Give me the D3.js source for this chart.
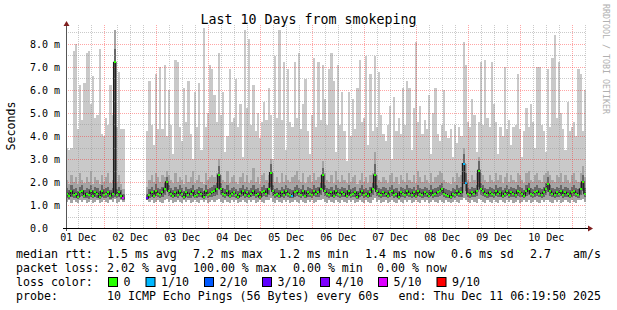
<!DOCTYPE html>
<html>
<head>
<meta charset="utf-8">
<script src="https://cdn.jsdelivr.net/npm/d3@7"></script>
<style>
  body { margin: 0; background: #fff; }
  text { font-family: "DejaVu Sans Mono", monospace; }
</style>
</head>
<body>
<div class="viz"></div>
<script>
// hourly buckets, Dec 1 06:19:50 .. Dec 11 06:19:50 (UTC)
var startTime = Date.UTC( 2025, 11, 1, 6, 19, 50 ),
    endTime = Date.UTC( 2025, 11, 11, 6, 19, 50 ),
    bucketMs = 3600 * 1000;

// round trip times in ms, one value per bucket (null = no data)
var pingMax = [
    3.5,3.4,3.5,7.7,8.0,4.3,6.2,4.7,6.3,7.6,7.7,5.4,6.6,4.8,4.9,7.8,4.1,4.0,4.8,4.5,6.2,4.9,8.6,4.4,6.8,4.3,4.3,
    null,null,null,null,null,null,null,null,null,null,
    4.2,6.4,4.5,3.6,6.7,4.3,7.0,4.3,7.1,4.0,
    6.0,4.5,3.2,7.3,7.2,4.4,3.8,6.1,4.6,6.4,
    4.1,3.0,5.9,4.4,6.3,3.4,8.7,4.4,5.0,7.1,
    6.9,5.8,4.6,7.6,4.9,5.9,3.3,4.0,6.9,4.6,
    4.8,6.5,4.4,5.4,3.1,8.6,5.2,8.2,4.5,6.2,
    4.2,5.0,3.9,4.6,5.5,4.7,6.1,4.9,3.0,7.5,
    4.8,8.6,4.7,7.2,3.4,6.9,4.6,4.4,7.2,4.8,
    7.6,4.3,5.4,6.5,4.2,3.2,4.9,7.4,4.4,7.2,
    4.7,7.1,5.6,4.5,6.9,7.6,6.4,3.3,7.1,4.5,
    5.9,4.2,2.9,5.9,4.0,5.6,4.3,6.1,7.3,4.6,
    4.8,7.5,3.6,6.7,4.2,7.5,4.4,6.8,4.9,4.1,
    3.8,4.5,5.3,3.0,5.7,4.2,4.8,4.1,6.1,4.5,
    6.4,6.1,3.4,5.2,8.1,4.6,5.3,4.1,4.7,4.3,
    5.8,3.2,5.0,6.1,4.1,3.8,4.5,6.0,4.2,3.9,
    4.3,3.1,4.5,3.7,4.4,4.0,8.1,7.1,4.6,4.4,
    5.6,4.9,3.3,4.6,7.2,4.5,7.3,4.8,4.4,7.2,
    5.4,4.6,3.2,4.4,4.0,7.0,4.3,4.7,3.6,4.4,
    4.5,6.7,4.3,3.1,4.2,5.2,4.4,5.4,4.6,3.5,
    7.0,7.0,4.5,4.2,3.3,6.9,4.4,7.4,8.4,4.8,
    7.2,5.0,4.3,3.4,5.5,4.2,4.4,4.6,4.0,6.9,
    6.7,4.2,6.0
];

var pingTop = [
    2.1,1.9,2.3,2.0,2.2,1.9,2.4,2.1,1.95,2.2,2.0,2.5,1.9,2.2,2.1,1.9,2.3,2.0,2.2,2.4,1.95,2.1,8.6,2.0,2.3,1.9,1.7,
    null,null,null,null,null,null,null,null,null,null,
    1.8,2.1,2.3,2.0,2.4,2.2,2.0,2.3,2.2,2.5,
    2.3,2.1,1.95,2.4,2.0,2.2,2.1,1.9,2.3,2.0,
    2.2,2.5,1.95,2.1,2.3,2.0,1.9,2.4,2.1,2.2,
    2.3,2.2,2.4,3.0,2.3,2.1,2.0,2.5,1.95,2.2,
    2.3,2.0,1.9,2.2,2.4,2.0,2.3,1.95,2.1,2.6,
    2.0,2.2,1.9,2.3,2.4,2.1,2.3,3.0,2.4,2.0,
    2.2,1.95,2.4,2.0,2.3,2.1,2.0,2.2,2.3,2.5,
    2.1,2.0,2.4,1.95,2.2,2.3,2.0,2.4,2.1,2.2,
    2.3,2.9,2.4,2.1,2.0,2.3,1.95,2.5,2.1,2.0,
    2.3,2.1,1.95,2.4,2.0,2.2,2.3,1.9,2.1,2.4,
    2.0,2.2,1.95,2.3,2.4,3.3,2.3,2.1,2.0,2.2,
    2.1,1.95,2.3,2.4,2.0,2.2,1.9,2.3,2.1,2.0,
    2.4,2.1,2.0,2.3,1.95,2.5,2.2,2.0,2.3,2.1,
    1.95,2.4,2.0,2.2,2.3,2.5,2.4,2.1,2.0,1.95,
    1.9,2.2,2.0,2.4,2.2,2.3,3.5,2.8,2.1,2.0,
    2.3,2.1,2.4,3.1,2.4,2.3,2.1,2.0,2.3,2.1,
    2.0,2.4,2.1,2.3,1.95,2.2,2.4,2.0,2.3,2.1,
    2.0,2.4,2.3,2.1,1.95,2.4,2.5,2.1,2.0,2.3,
    2.4,2.1,2.0,2.3,2.4,2.5,2.3,2.1,2.0,2.3,
    2.2,2.4,2.0,2.3,2.1,1.95,2.3,2.4,2.1,2.0,
    2.4,2.7,2.2
];

var pingHigh = [
    1.75,1.65,1.85,1.7,1.75,1.6,1.8,1.85,1.65,1.75,1.7,1.85,1.65,1.8,1.75,1.6,1.85,1.7,1.75,1.8,1.65,1.75,7.8,1.7,1.8,1.65,1.5,
    null,null,null,null,null,null,null,null,null,null,
    1.5,1.7,1.8,1.65,1.9,1.75,1.7,1.8,1.95,2.2,
    1.85,1.75,1.65,1.8,1.7,1.85,1.75,1.6,1.8,1.7,
    1.75,1.85,1.65,1.7,1.8,1.75,1.6,1.85,1.7,1.75,
    1.8,1.85,1.95,2.7,1.95,1.75,1.7,1.85,1.65,1.75,
    1.8,1.7,1.6,1.75,1.85,1.7,1.8,1.65,1.75,1.85,
    1.7,1.75,1.6,1.8,1.85,1.75,1.95,2.8,1.85,1.7,
    1.75,1.65,1.8,1.7,1.85,1.75,1.7,1.65,1.8,1.85,
    1.75,1.7,1.85,1.65,1.8,1.75,1.7,1.85,1.75,1.8,
    1.95,2.6,1.85,1.75,1.7,1.8,1.65,1.85,1.75,1.7,
    1.8,1.75,1.65,1.85,1.7,1.75,1.8,1.6,1.75,1.85,
    1.7,1.75,1.65,1.8,1.95,2.8,1.85,1.75,1.7,1.8,
    1.75,1.65,1.8,1.85,1.7,1.75,1.6,1.8,1.75,1.7,
    1.85,1.75,1.7,1.8,1.65,1.85,1.75,1.7,1.8,1.75,
    1.65,1.85,1.7,1.75,1.8,1.85,1.95,1.75,1.7,1.65,
    1.6,1.75,1.7,1.85,1.75,1.8,3.2,2.4,1.75,1.7,
    1.8,1.75,1.85,2.9,1.95,1.85,1.75,1.7,1.8,1.75,
    1.7,1.85,1.75,1.8,1.65,1.75,1.85,1.7,1.8,1.75,
    1.7,1.85,1.8,1.75,1.65,1.85,1.95,1.75,1.7,1.8,
    1.85,1.75,1.7,1.8,1.95,2.2,1.85,1.75,1.7,1.8,
    1.75,1.85,1.7,1.8,1.75,1.65,1.8,1.85,1.75,1.7,
    1.95,2.3,1.75
];

var median = [
    1.5,1.4,1.6,1.45,1.5,1.35,1.55,1.6,1.4,1.5,1.45,1.6,1.4,1.55,1.5,1.35,1.6,1.45,1.5,1.55,1.4,1.5,7.2,1.45,1.55,1.4,1.3,
    null,null,null,null,null,null,null,null,null,null,
    1.3,1.45,1.55,1.4,1.6,1.5,1.45,1.55,1.7,2.0,
    1.6,1.5,1.4,1.55,1.45,1.6,1.5,1.35,1.55,1.45,
    1.5,1.6,1.4,1.45,1.55,1.5,1.35,1.6,1.45,1.5,
    1.55,1.6,1.7,2.3,1.7,1.5,1.45,1.6,1.4,1.5,
    1.55,1.45,1.35,1.5,1.6,1.45,1.55,1.4,1.5,1.6,
    1.45,1.5,1.35,1.55,1.6,1.5,1.7,2.4,1.6,1.45,
    1.5,1.4,1.55,1.45,1.6,1.5,1.45,1.4,1.55,1.6,
    1.5,1.45,1.6,1.4,1.55,1.5,1.45,1.6,1.5,1.55,
    1.7,2.3,1.6,1.5,1.45,1.55,1.4,1.6,1.5,1.45,
    1.55,1.5,1.4,1.6,1.45,1.5,1.55,1.35,1.5,1.6,
    1.45,1.5,1.4,1.55,1.7,2.3,1.6,1.5,1.45,1.55,
    1.5,1.4,1.55,1.6,1.45,1.5,1.35,1.55,1.5,1.45,
    1.6,1.5,1.45,1.55,1.4,1.6,1.5,1.45,1.55,1.5,
    1.4,1.6,1.45,1.5,1.55,1.6,1.7,1.5,1.45,1.4,
    1.35,1.5,1.45,1.6,1.5,1.55,2.8,1.95,1.5,1.45,
    1.55,1.5,1.6,2.5,1.7,1.6,1.5,1.45,1.55,1.5,
    1.45,1.6,1.5,1.55,1.4,1.5,1.6,1.45,1.55,1.5,
    1.45,1.6,1.55,1.5,1.4,1.6,1.7,1.5,1.45,1.55,
    1.6,1.5,1.45,1.55,1.7,1.9,1.6,1.5,1.45,1.55,
    1.5,1.6,1.45,1.55,1.5,1.4,1.55,1.6,1.5,1.45,
    1.7,2.0,1.5
];

var pingLow = [
    1.3,1.25,1.35,1.3,1.3,1.25,1.35,1.4,1.3,1.3,1.25,1.35,1.3,1.35,1.3,1.25,1.35,1.3,1.3,1.35,1.25,1.3,1.35,1.3,1.35,1.25,1.2,
    null,null,null,null,null,null,null,null,null,null,
    1.2,1.3,1.35,1.3,1.4,1.35,1.3,1.35,1.45,1.6,
    1.4,1.35,1.3,1.35,1.3,1.4,1.35,1.25,1.35,1.3,
    1.3,1.4,1.3,1.3,1.35,1.35,1.25,1.4,1.3,1.35,
    1.35,1.4,1.45,1.7,1.45,1.35,1.3,1.4,1.3,1.35,
    1.35,1.3,1.25,1.35,1.4,1.3,1.35,1.3,1.35,1.4,
    1.3,1.35,1.25,1.35,1.4,1.35,1.45,1.8,1.4,1.3,
    1.35,1.3,1.35,1.3,1.4,1.35,1.3,1.3,1.35,1.4,
    1.35,1.3,1.4,1.3,1.35,1.35,1.3,1.4,1.35,1.35,
    1.45,1.7,1.4,1.35,1.3,1.35,1.3,1.4,1.35,1.3,
    1.35,1.35,1.3,1.4,1.3,1.35,1.35,1.25,1.35,1.4,
    1.3,1.35,1.3,1.35,1.45,1.7,1.4,1.35,1.3,1.35,
    1.35,1.3,1.35,1.4,1.3,1.35,1.25,1.35,1.35,1.3,
    1.4,1.35,1.3,1.35,1.3,1.4,1.35,1.3,1.35,1.35,
    1.3,1.4,1.3,1.35,1.35,1.4,1.45,1.35,1.3,1.3,
    1.25,1.35,1.3,1.4,1.35,1.35,1.9,1.6,1.35,1.3,
    1.35,1.35,1.4,1.8,1.45,1.4,1.35,1.3,1.35,1.35,
    1.3,1.4,1.35,1.35,1.3,1.35,1.4,1.3,1.35,1.35,
    1.3,1.4,1.35,1.35,1.3,1.4,1.45,1.35,1.3,1.35,
    1.4,1.35,1.3,1.35,1.45,1.55,1.4,1.35,1.3,1.35,
    1.35,1.4,1.3,1.35,1.35,1.3,1.35,1.4,1.35,1.3,
    1.45,1.6,1.35
];

var pingMin = [
    1.15,1.2,1.1,1.2,1.15,1.1,1.2,1.15,1.2,1.1,1.15,1.2,1.1,1.15,1.2,1.1,1.15,1.2,1.15,1.1,1.2,1.15,1.25,1.1,1.15,1.2,1.15,
    null,null,null,null,null,null,null,null,null,null,
    1.2,1.15,1.2,1.1,1.15,1.2,1.15,1.1,1.2,1.25,
    1.15,1.2,1.1,1.15,1.2,1.15,1.1,1.2,1.15,1.2,
    1.1,1.15,1.2,1.15,1.1,1.2,1.15,1.2,1.1,1.15,
    1.2,1.15,1.2,1.25,1.15,1.1,1.2,1.15,1.1,1.2,
    1.15,1.2,1.1,1.15,1.2,1.15,1.1,1.2,1.15,1.2,
    1.1,1.15,1.2,1.15,1.1,1.2,1.2,1.3,1.15,1.1,
    1.2,1.15,1.1,1.2,1.15,1.2,1.1,1.15,1.2,1.15,
    1.1,1.2,1.15,1.1,1.2,1.15,1.2,1.1,1.15,1.2,
    1.2,1.25,1.15,1.1,1.2,1.15,1.1,1.2,1.15,1.1,
    1.2,1.15,1.1,1.2,1.15,1.2,1.1,1.15,1.2,1.15,
    1.1,1.2,1.15,1.1,1.2,1.3,1.15,1.2,1.1,1.15,
    1.2,1.1,1.15,1.2,1.15,1.1,1.2,1.15,1.1,1.2,
    1.15,1.2,1.1,1.15,1.2,1.15,1.1,1.2,1.15,1.2,
    1.1,1.15,1.2,1.15,1.1,1.2,1.15,1.1,1.2,1.15,
    1.1,1.15,1.2,1.15,1.1,1.2,1.3,1.2,1.15,1.1,
    1.2,1.15,1.1,1.25,1.2,1.15,1.1,1.2,1.15,1.1,
    1.2,1.15,1.1,1.2,1.15,1.1,1.2,1.15,1.2,1.1,
    1.15,1.2,1.1,1.15,1.2,1.15,1.2,1.1,1.15,1.2,
    1.15,1.1,1.2,1.15,1.2,1.2,1.15,1.1,1.2,1.15,
    1.2,1.1,1.15,1.2,1.15,1.1,1.2,1.15,1.1,1.2,
    1.2,1.25,1.15
];

// buckets with lost packets (out of 10)
var lossBuckets = [ 26, 37, 104, 183, 184 ],
    lossCounts = [ 5, 3, 1, 1, 1 ];

var lossLabels = [ "0", "1/10", "2/10", "3/10", "4/10", "5/10", "9/10" ],
    lossSteps = [ 0, 1, 2, 3, 4, 5, 9 ],
    lossColors = [ "#26ff00", "#00b8ff", "#0059ff", "#5e00ff", "#7e00ff", "#dd00ff", "#ff0000" ];

var yTicks = [ 0, 1, 2, 3, 4, 5, 6, 7, 8 ];

var statsRtt = [ "1.5 ms avg", "7.2 ms max", "1.2 ms min", "1.4 ms now", "0.6 ms sd", "2.7", "am/s" ],
    statsLoss = [ "2.02 % avg", "100.00 % max", "0.00 % min", "0.00 % now" ];

var margin = { top: 25, right: 31, bottom: 82, left: 66 },
    W = 617, H = 310,
    width = W - margin.left - margin.right,
    height = H - margin.top - margin.bottom;

var svg = d3.select( ".viz" ).append( "svg" )
    .attr( "width", W ).attr( "height", H )
    .style( "display", "block" );

svg.append( "rect" ).attr( "width", W ).attr( "height", H ).attr( "fill", "#fff" );

var g = svg.append( "g" ).attr( "transform", "translate(" + margin.left + "," + margin.top + ")" );

var x = d3.scaleUtc().domain( [ startTime, endTime ] ).range( [ 0, width ] );
var y = d3.scaleLinear().domain( [ 0, height / 23 ] ).range( [ height, 0 ] );

var tAt = function( i ) { return startTime + i * bucketMs; };
var lossAt = function( i ) {
    var k = lossBuckets.indexOf( i );
    return k < 0 ? 0 : lossCounts[ k ];
};

// step points: each bucket gives a start and an end point
var pts = [];
median.forEach( function( m, i ) {
    var d = { i: i, max: pingMax[ i ], top: pingTop[ i ], high: pingHigh[ i ], med: m, low: pingLow[ i ], min: pingMin[ i ] };
    pts.push( Object.assign( { t: tAt( i ) }, d ) );
    pts.push( Object.assign( { t: Math.min( tAt( i + 1 ), endTime ) }, d ) );
} );

function band( lo, hi ) {
    return d3.area()
        .defined( function( d ) { return d.med != null; } )
        .x( function( d ) { return x( d.t ); } )
        .y0( function( d ) { return y( d[ lo ] ); } )
        .y1( function( d ) { return y( d[ hi ] ); } );
}

g.append( "path" ).attr( "d", band( "min", "max" )( pts ) ).attr( "fill", "#c9c9c9" ).attr( "shape-rendering", "crispEdges" );
g.append( "path" ).attr( "d", band( "min", "top" )( pts ) ).attr( "fill", "#a4a4a4" ).attr( "shape-rendering", "crispEdges" );
g.append( "path" ).attr( "d", band( "low", "high" )( pts ) ).attr( "fill", "#686868" ).attr( "shape-rendering", "crispEdges" );

var medLine = d3.line()
    .defined( function( d ) { return d.med != null; } )
    .x( function( d ) { return x( d.t ); } )
    .y( function( d ) { return y( d.med ); } );

g.append( "path" ).attr( "d", medLine( pts ) )
    .attr( "fill", "none" ).attr( "stroke", "#1c1c1c" ).attr( "stroke-width", 1.4 );

// loss coloured median marks
g.selectAll( ".med" )
    .data( median.map( function( m, i ) { return { i: i, m: m }; } ).filter( function( d ) { return d.m != null; } ) )
    .enter().append( "rect" )
    .attr( "class", "med" )
    .attr( "x", function( d ) { return Math.round( ( x( tAt( d.i ) ) + x( tAt( d.i + 1 ) ) ) / 2 ) - 1; } )
    .attr( "y", function( d ) { return Math.round( y( d.m ) ) - 1; } )
    .attr( "width", 2 ).attr( "height", 2 )
    .attr( "fill", function( d ) { return lossColors[ lossSteps.indexOf( lossAt( d.i ) ) ]; } );

// grid on top
var minorY = d3.range( 0.5, y.domain()[ 1 ], 1 ),
    majorY = yTicks.slice( 1 ),
    minorX = d3.utcHour.every( 6 ).range( startTime, endTime ).filter( function( t ) { return t.getUTCHours() != 0; } ),
    majorX = d3.utcDay.range( startTime, endTime );

var grid = g.append( "g" ).attr( "shape-rendering", "crispEdges" );

function hLines( data, colour ) {
    grid.selectAll( null ).data( data ).enter().append( "line" )
        .attr( "x1", 0 ).attr( "x2", width )
        .attr( "y1", function( d ) { return Math.round( y( d ) ) + 0.5; } )
        .attr( "y2", function( d ) { return Math.round( y( d ) ) + 0.5; } )
        .attr( "stroke", colour ).attr( "stroke-width", 1 ).attr( "stroke-dasharray", "1,1" );
}
function vLines( data, colour ) {
    grid.selectAll( null ).data( data ).enter().append( "line" )
        .attr( "y1", 0 ).attr( "y2", height )
        .attr( "x1", function( d ) { return Math.round( x( d ) ) + 0.5; } )
        .attr( "x2", function( d ) { return Math.round( x( d ) ) + 0.5; } )
        .attr( "stroke", colour ).attr( "stroke-width", 1 ).attr( "stroke-dasharray", "1,1" );
}
hLines( minorY, "rgba(150,150,150,0.5)" );
vLines( minorX, "rgba(150,150,150,0.5)" );
hLines( majorY, "rgba(255,30,30,0.4)" );
vLines( majorX, "rgba(255,30,30,0.4)" );

// axes
g.append( "line" ).attr( "x1", 0.5 ).attr( "x2", 0.5 ).attr( "y1", height + 3 ).attr( "y2", 1 )
    .attr( "stroke", "#555" ).attr( "shape-rendering", "crispEdges" );
g.append( "line" ).attr( "x1", -3 ).attr( "x2", width + 3 ).attr( "y1", height + 0.5 ).attr( "y2", height + 0.5 )
    .attr( "stroke", "#000" ).attr( "shape-rendering", "crispEdges" );
g.append( "path" ).attr( "d", "M-2.5,1L3.5,1L0.5,-4Z" ).attr( "fill", "#7f1f1f" );
g.append( "path" ).attr( "d", "M" + ( width + 2 ) + "," + ( height - 2.5 ) + "L" + ( width + 2 ) + "," + ( height + 3.5 ) + "L" + ( width + 7 ) + "," + ( height + 0.5 ) + "Z" ).attr( "fill", "#7f1f1f" );

// y labels
g.selectAll( ".ylab" ).data( yTicks ).enter().append( "text" )
    .attr( "x", 30 - margin.left )
    .attr( "y", function( d ) { return y( d ) + 3.5; } )
    .attr( "font-size", "10px" ).attr( "fill", "#000" )
    .text( function( d ) { return d == 0 ? "0.0" : d3.format( ".1f" )( d ) + " m"; } );

// x labels at noon
var dayFmt = d3.utcFormat( "%d %b" );
g.selectAll( ".xlab" ).data( d3.utcDay.range( d3.utcDay.floor( new Date( startTime ) ), endTime )
        .filter( function( d ) { return +d3.utcHour.offset( d, 12 ) < endTime; } ) )
    .enter().append( "text" )
    .attr( "x", function( d ) { return x( d3.utcHour.offset( d, 12 ) ); } )
    .attr( "y", height + 13 )
    .attr( "text-anchor", "middle" ).attr( "font-size", "10px" ).attr( "fill", "#000" )
    .text( function( d ) { return dayFmt( d ); } );

// title, unit, watermark
svg.append( "text" ).attr( "x", W / 2 ).attr( "y", 24 ).attr( "text-anchor", "middle" )
    .attr( "font-size", "13.3px" ).text( "Last 10 Days from smokeping" );
svg.append( "text" ).attr( "transform", "translate(15,126) rotate(-90)" ).attr( "text-anchor", "middle" )
    .attr( "font-size", "11.6px" ).text( "Seconds" );
svg.append( "text" ).attr( "transform", "translate(603,4) rotate(90)" )
    .attr( "font-size", "8.3px" ).attr( "fill", "#b0b0b0" ).text( "RRDTOOL / TOBI OETIKER" );

// legend
var leg = svg.append( "g" ).attr( "font-size", "11.6px" ).attr( "fill", "#000" );
var rttX = [ 107, 193, 279, 365, 451, 530, 573 ],
    lossX = [ 107, 193, 293, 377 ];

leg.append( "text" ).attr( "x", 16 ).attr( "y", 258 ).text( "median rtt:" );
statsRtt.forEach( function( s, i ) { leg.append( "text" ).attr( "x", rttX[ i ] ).attr( "y", 258 ).text( s ); } );
leg.append( "text" ).attr( "x", 16 ).attr( "y", 272 ).text( "packet loss:" );
statsLoss.forEach( function( s, i ) { leg.append( "text" ).attr( "x", lossX[ i ] ).attr( "y", 272 ).text( s ); } );

leg.append( "text" ).attr( "x", 16 ).attr( "y", 286 ).text( "loss color:" );
var boxX = [ 108, 145.5, 204, 262, 320, 378, 436.5 ];
lossLabels.forEach( function( l, i ) {
    leg.append( "rect" ).attr( "x", boxX[ i ] + 0.5 ).attr( "y", 277.5 ).attr( "width", 9 ).attr( "height", 9 )
        .attr( "fill", lossColors[ i ] ).attr( "stroke", "#000" ).attr( "stroke-width", 1 );
    leg.append( "text" ).attr( "x", boxX[ i ] + 15.5 ).attr( "y", 286 ).text( l );
} );

leg.append( "text" ).attr( "x", 16 ).attr( "y", 300 ).text( "probe:" );
leg.append( "text" ).attr( "x", 107 ).attr( "y", 300 ).text( "10 ICMP Echo Pings (56 Bytes) every 60s" );
leg.append( "text" ).attr( "x", 601 ).attr( "y", 300 ).attr( "text-anchor", "end" ).text( "end: Thu Dec 11 06:19:50 2025" );
</script>
</body>
</html>
